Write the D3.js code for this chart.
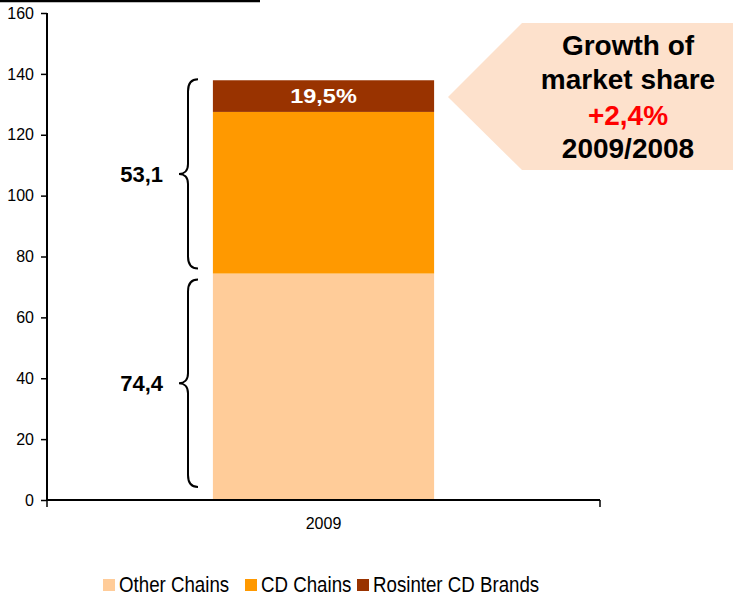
<!DOCTYPE html>
<html>
<head>
<meta charset="utf-8">
<script src="https://d3js.org/d3.v7.min.js"></script>
<title>Market share 2009</title>
<style>
  body { margin: 0; background: #fff; }
  svg text { font-family: "Liberation Sans", Arial, sans-serif; }
</style>
</head>
<body>
<div id="chart"></div>
<script>
// data
var categories = ["2009"];
var seriesNames = ["Other Chains", "CD Chains", "Rosinter CD Brands"];
var seriesValues = [74.4, 53.1, 10.4];
var seriesColors = ["#ffcc99", "#ff9900", "#993300"];
var yTicks = [0, 20, 40, 60, 80, 100, 120, 140, 160];
var braceLabels = ["74,4", "53,1"];
var topLabel = "19,5%";
var calloutLines = ["Growth of", "market share", "+2,4%", "2009/2008"];

var width = 733, height = 596;
var svg = d3.select("#chart").append("svg")
  .attr("width", width)
  .attr("height", height);

var y = d3.scaleLinear().domain([0, 160]).range([500, 13]);
var x = d3.scaleBand().domain(categories).range([47, 600])
  .paddingInner(0).paddingOuter(0.75);

// line at top
svg.append("line")
  .attr("x1", 0).attr("x2", 260)
  .attr("y1", 1).attr("y2", 1)
  .attr("stroke", "#000").attr("stroke-width", 2.5);

// stacked data
var stacked = [];
var acc = 0;
seriesValues.forEach(function(v, i) {
  stacked.push({name: seriesNames[i], y0: acc, y1: acc + v, color: seriesColors[i]});
  acc += v;
});

svg.selectAll(".seg")
  .data(stacked).enter()
  .append("rect")
  .attr("class", "seg")
  .attr("x", x("2009"))
  .attr("width", x.bandwidth())
  .attr("y", function(d) { return y(d.y1); })
  .attr("height", function(d) { return y(d.y0) - y(d.y1); })
  .attr("fill", function(d) { return d.color; });

// label in top segment
var topSeg = stacked[2];
var tx = x("2009") + x.bandwidth() / 2, ty = (y(topSeg.y0) + y(topSeg.y1)) / 2 + 7;
svg.append("text")
  .attr("transform", "translate(" + tx + "," + ty + ") scale(1.12,1)")
  .attr("text-anchor", "middle")
  .attr("font-size", 21).attr("font-weight", "bold")
  .attr("fill", "#fff")
  .text(topLabel);

// y axis
var yAxis = svg.append("g")
  .attr("transform", "translate(47,0)")
  .call(d3.axisLeft(y).tickValues(yTicks).tickSize(6).tickPadding(7).tickFormat(d3.format("d")));
yAxis.select(".domain").attr("stroke-width", 2).attr("d", "M0," + y(160) + "V" + y(0));
yAxis.selectAll(".tick line").attr("stroke-width", 1.5);
yAxis.selectAll("text").attr("font-size", 16).attr("fill", "#000")
  .attr("font-family", "'Liberation Sans', Arial, sans-serif");

// x axis
var xAxis = svg.append("g")
  .attr("transform", "translate(0,500)")
  .call(d3.axisBottom(x).tickSize(0).tickPadding(18));
xAxis.select(".domain").attr("stroke-width", 2).attr("d", "M47,0H600");
xAxis.selectAll("text").attr("font-size", 16).attr("fill", "#000")
  .attr("font-family", "'Liberation Sans', Arial, sans-serif");
[47, 600].forEach(function(px) {
  svg.append("line").attr("x1", px).attr("x2", px)
    .attr("y1", 500).attr("y2", 507)
    .attr("stroke", "#000").attr("stroke-width", 1.5);
});

// braces
function bracePath(top, bot) {
  var mid = (top + bot) / 2;
  return "M198," + top +
    " C191," + top + " 188," + (top + 4) + " 188," + (top + 12) +
    " L188," + (mid - 10) +
    " C188," + (mid - 3) + " 184," + mid + " 179," + mid +
    " C184," + mid + " 188," + (mid + 3) + " 188," + (mid + 10) +
    " L188," + (bot - 12) +
    " C188," + (bot - 4) + " 191," + bot + " 198," + bot;
}
var braces = [
  {top: y(stacked[0].y1) + 6, bot: y(0) - 13, label: braceLabels[0]},
  {top: y(stacked[2].y1) - 1, bot: y(stacked[0].y1) - 5, label: braceLabels[1]}
];
svg.selectAll(".brace")
  .data(braces).enter()
  .append("path")
  .attr("class", "brace")
  .attr("d", function(d) { return bracePath(d.top, d.bot); })
  .attr("fill", "none").attr("stroke", "#000").attr("stroke-width", 2);
svg.selectAll(".braceLabel")
  .data(braces).enter()
  .append("text")
  .attr("class", "braceLabel")
  .attr("x", 163)
  .attr("y", function(d) { return (d.top + d.bot) / 2 + 8; })
  .attr("text-anchor", "end")
  .attr("font-size", 22).attr("font-weight", "bold")
  .text(function(d) { return d.label; });

// callout arrow
svg.append("path")
  .attr("d", "M448,97 L522,23 L735,23 L735,170 L522,170 Z")
  .attr("fill", "#fde1cc");
var lineY = [55, 89, 125, 158];
svg.selectAll(".callout")
  .data(calloutLines).enter()
  .append("text")
  .attr("class", "callout")
  .attr("x", 628)
  .attr("y", function(d, i) { return lineY[i]; })
  .attr("text-anchor", "middle")
  .attr("font-size", 28).attr("font-weight", "bold")
  .attr("fill", function(d, i) { return i == 2 ? "#ff0000" : "#000"; })
  .text(function(d) { return d; });

// legend
var legendX = [103, 245, 357];
var legend = svg.selectAll(".legend")
  .data(seriesNames).enter()
  .append("g")
  .attr("class", "legend")
  .attr("transform", function(d, i) { return "translate(" + legendX[i] + ",579)"; });
legend.append("rect")
  .attr("width", 12).attr("height", 12)
  .attr("fill", function(d, i) { return seriesColors[i]; });
legend.append("text")
  .attr("transform", "translate(16,12.5) scale(0.85,1)")
  .attr("font-size", 22)
  .text(function(d) { return d; });
</script>
</body>
</html>
